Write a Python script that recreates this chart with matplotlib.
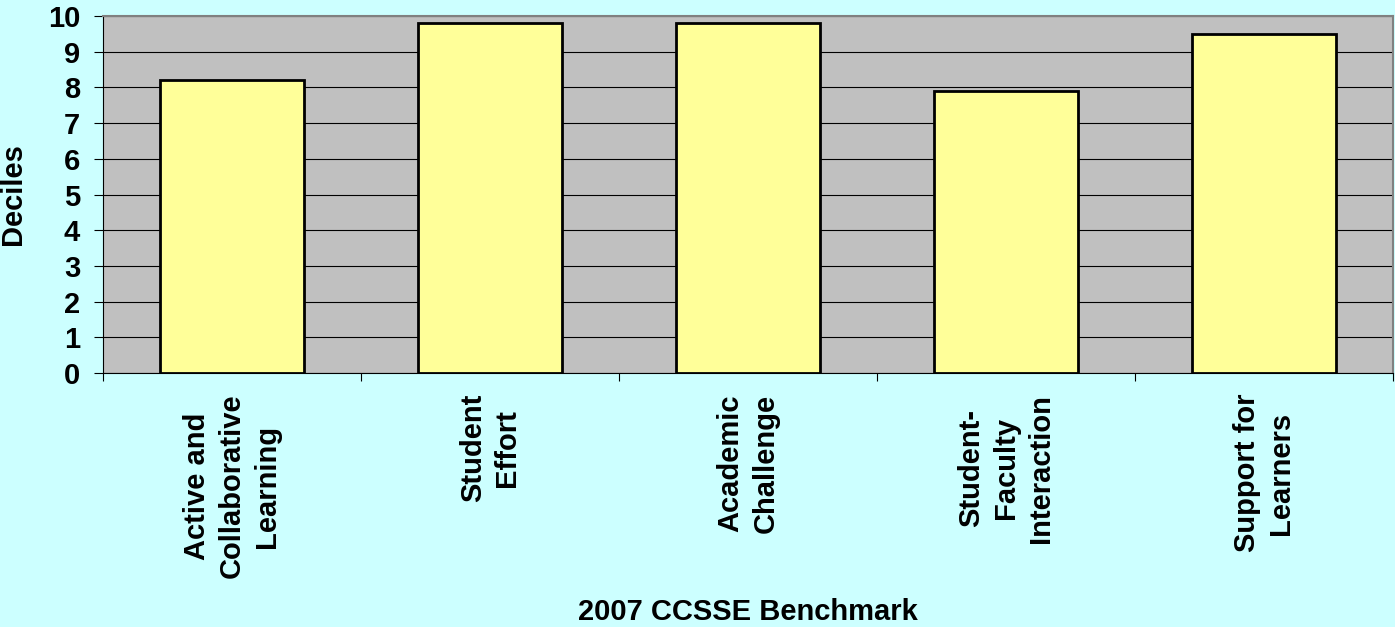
import numpy as np
import matplotlib
matplotlib.use('Agg')
import matplotlib.pyplot as plt

plt.rcParams['font.family'] = ['Liberation Sans', 'DejaVu Sans']
plt.rcParams['font.weight'] = 'bold'

benchmarks = [
    'Active and\nCollaborative\nLearning',
    'Student\nEffort',
    'Academic\nChallenge',
    'Student-\nFaculty\nInteraction',
    'Support for\nLearners',
]
deciles = [8.2, 9.8, 9.8, 7.9, 9.5]
y_ticks = list(range(0, 11))

fig = plt.figure(figsize=(13.95, 6.27), dpi=100, facecolor='#CCFFFF')
ax = fig.add_axes([103 / 1395, 1 - 373 / 627, 1290 / 1395, 357 / 627])
ax.set_facecolor('#C0C0C0')

x = np.arange(len(benchmarks))
ax.bar(x, deciles, width=0.555, color='#FFFF99', edgecolor='black',
       linewidth=2.0, zorder=3)

ax.set_xlim(-0.5, len(benchmarks) - 0.5)
ax.set_ylim(0, 10)
ax.set_yticks(y_ticks)
ax.yaxis.grid(True, color='black', linewidth=0.8, zorder=1)
ax.set_axisbelow(True)

# labels centred on bars, ticks on the category boundaries
ax.set_xticks(x)
ax.set_xticklabels(benchmarks, rotation=90, ha='center', va='top',
                   multialignment='center', fontsize=21, linespacing=1.3)
ax.set_xticks(np.arange(len(benchmarks) + 1) - 0.5, minor=True)
ax.tick_params(axis='x', which='major', length=0, pad=15)
ax.tick_params(axis='x', which='minor', length=6, width=0.8, color='black')
ax.tick_params(axis='y', length=6.5, width=0.8, pad=10, labelsize=21)

for side in ['left', 'bottom']:
    ax.spines[side].set_color('black')
    ax.spines[side].set_linewidth(0.8)
for side in ['top', 'right']:
    ax.spines[side].set_color('#808080')
    ax.spines[side].set_linewidth(1.5)

ax.set_xlabel('2007 CCSSE Benchmark', fontsize=21, fontweight='bold')
ax.xaxis.set_label_coords(0.5, -0.63)
ax.set_ylabel('Deciles', fontsize=21, fontweight='bold')
ax.yaxis.set_label_coords(-0.059, 0.5)

fig.savefig('out.png', dpi=100, facecolor=fig.get_facecolor())
